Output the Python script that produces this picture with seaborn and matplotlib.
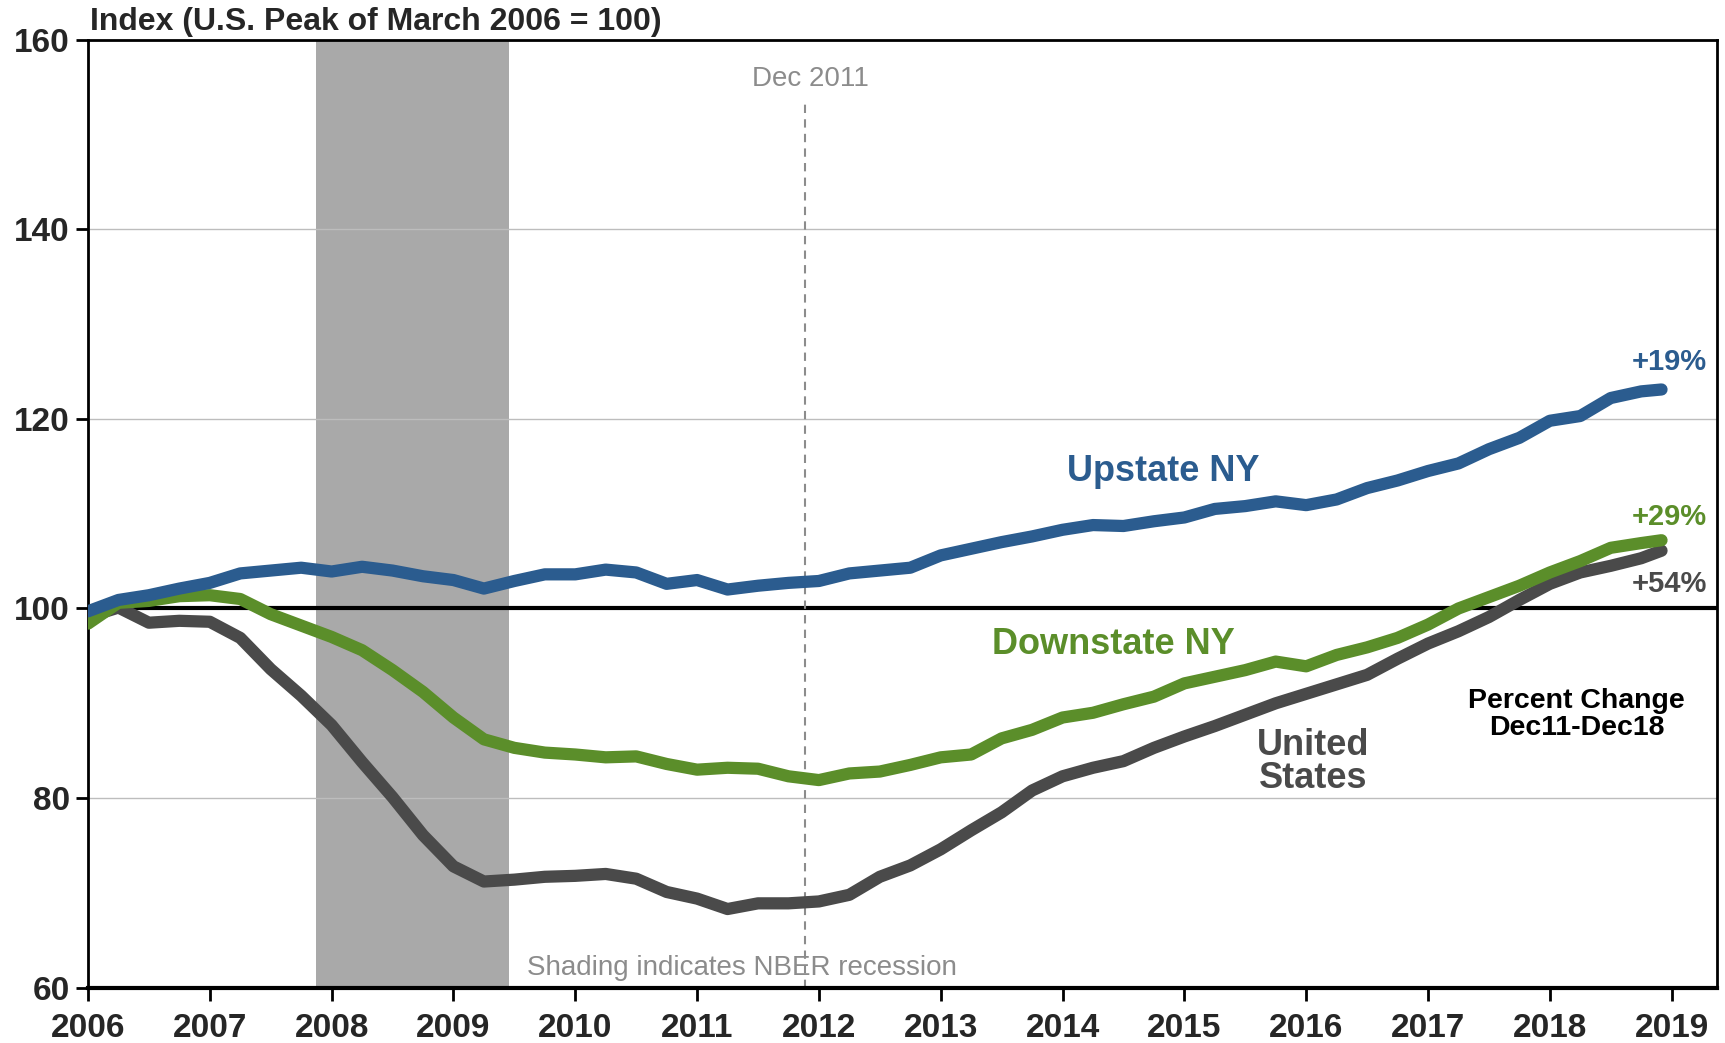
import numpy as np
import pandas as pd
import matplotlib
matplotlib.use("Agg")
import matplotlib.pyplot as plt
import seaborn as sns

# ---- data (index, U.S. peak of March 2006 = 100), quarterly readings + Dec 2018 ----
dates = [2006.00, 2006.25, 2006.50, 2006.75,
         2007.00, 2007.25, 2007.50, 2007.75,
         2008.00, 2008.25, 2008.50, 2008.75,
         2009.00, 2009.25, 2009.50, 2009.75,
         2010.00, 2010.25, 2010.50, 2010.75,
         2011.00, 2011.25, 2011.50, 2011.75,
         2012.00, 2012.25, 2012.50, 2012.75,
         2013.00, 2013.25, 2013.50, 2013.75,
         2014.00, 2014.25, 2014.50, 2014.75,
         2015.00, 2015.25, 2015.50, 2015.75,
         2016.00, 2016.25, 2016.50, 2016.75,
         2017.00, 2017.25, 2017.50, 2017.75,
         2018.00, 2018.25, 2018.50, 2018.75, 2018.917]

upstate = [99.7, 100.9, 101.4, 102.1,
           102.7, 103.7, 104.0, 104.3,
           103.9, 104.4, 104.0, 103.4,
           103.0, 102.1, 102.9, 103.6,
           103.6, 104.1, 103.8, 102.6,
           103.0, 102.0, 102.4, 102.7,
           102.9, 103.7, 104.0, 104.3,
           105.6, 106.3, 107.0, 107.6,
           108.3, 108.8, 108.7, 109.2,
           109.6, 110.5, 110.8, 111.3,
           110.9, 111.5, 112.7, 113.5,
           114.5, 115.3, 116.8, 118.0,
           119.8, 120.3, 122.2, 122.9, 123.1]

downstate = [98.4, 100.6, 100.8, 101.3,
             101.4, 101.0, 99.4, 98.2,
             97.0, 95.6, 93.5, 91.2,
             88.5, 86.2, 85.3, 84.8,
             84.6, 84.3, 84.4, 83.6,
             83.0, 83.2, 83.1, 82.3,
             81.9, 82.6, 82.8, 83.5,
             84.3, 84.6, 86.3, 87.2,
             88.5, 89.0, 89.9, 90.7,
             92.1, 92.8, 93.5, 94.4,
             93.9, 95.1, 95.9, 96.9,
             98.3, 100.0, 101.2, 102.4,
             103.8, 105.0, 106.4, 106.9, 107.2]

united_states = [99.1, 100.1, 98.5, 98.7,
                 98.6, 96.9, 93.6, 90.8,
                 87.7, 83.8, 80.1, 76.1,
                 72.8, 71.2, 71.4, 71.7,
                 71.8, 72.0, 71.5, 70.1,
                 69.4, 68.3, 68.9, 68.9,
                 69.1, 69.8, 71.7, 72.9,
                 74.6, 76.6, 78.5, 80.8,
                 82.3, 83.2, 83.9, 85.3,
                 86.5, 87.6, 88.8, 90.0,
                 91.0, 92.0, 93.0, 94.7,
                 96.3, 97.6, 99.1, 100.9,
                 102.6, 103.8, 104.5, 105.3, 106.1]

series_names = ["Upstate NY", "Downstate NY", "United States"]
series_colors = ["#2B5C8F", "#5B8E2A", "#4A4A4A"]
end_labels = ["+19%", "+29%", "+54%"]

year_ticks = list(range(2006, 2020))
y_ticks = [60, 80, 100, 120, 140, 160]

recession_start, recession_end = 2007.87, 2009.46
marker_date = 2011.89

# ---- build table ----
df = pd.DataFrame({
    "date": dates * 3,
    "value": upstate + downstate + united_states,
    "series": [series_names[0]] * len(dates) + [series_names[1]] * len(dates)
              + [series_names[2]] * len(dates),
})

sns.set_style("white")
plt.rcParams["font.family"] = ["Liberation Sans", "DejaVu Sans"]

fig = plt.figure(figsize=(17.25, 10.43), dpi=100)
ax = fig.add_axes([0.051, 0.053, 0.9442, 0.909])

narrow = ["Liberation Sans Narrow", "Liberation Sans", "DejaVu Sans"]

# recession shading
ax.axvspan(recession_start, recession_end, color="#A9A9A9", lw=0, zorder=0)

# gridlines
for yv in [80, 120, 140]:
    ax.axhline(yv, color="#BDBDBD", lw=1.0, zorder=0.5)
ax.axhline(100, color="black", lw=3.0, zorder=1)

# Dec 2011 marker
ax.plot([marker_date, marker_date], [60, 153.3], color="#8C8C8C", lw=1.5,
        ls=(0, (4, 3)), zorder=1.5)

sns.lineplot(data=df, x="date", y="value", hue="series",
             hue_order=[series_names[2], series_names[1], series_names[0]],
             palette={n: c for n, c in zip(series_names, series_colors)},
             linewidth=8.8, legend=False, ax=ax, zorder=3,
             solid_capstyle="round", solid_joinstyle="round")

ax.set_xlim(2006, 2019.37)
ax.set_ylim(60, 160)
ax.set_xticks(year_ticks)
ax.set_xticklabels([str(y) for y in year_ticks])
ax.set_yticks(y_ticks)
ax.set_yticklabels([str(y) for y in y_ticks])
ax.set_xlabel("")
ax.set_ylabel("")

for lab in ax.get_xticklabels() + ax.get_yticklabels():
    lab.set_family(narrow)
    lab.set_fontweight("bold")
    lab.set_fontsize(24)

ax.tick_params(axis="both", direction="out", length=9, width=2, color="black",
               bottom=True, left=True, top=False, right=False)
ax.tick_params(axis="x", pad=9)
ax.tick_params(axis="y", pad=4)

for side, sp in ax.spines.items():
    sp.set_visible(True)
    sp.set_color("black")
    sp.set_linewidth(2.0)
ax.spines["bottom"].set_linewidth(3.0)

# title
fig.text(0.052, 0.965, "Index (U.S. Peak of March 2006 = 100)", family=narrow,
         fontweight="bold", fontsize=23, ha="left", va="bottom")

# series labels
ax.text(2014.83, 114.5, "Upstate NY", color=series_colors[0], fontsize=26,
        fontweight="bold", ha="center", va="center")
ax.text(2014.42, 96.2, "Downstate NY", color=series_colors[1], fontsize=26,
        fontweight="bold", ha="center", va="center")
ax.text(2016.06, 83.8, "United\nStates", color=series_colors[2], fontsize=26,
        fontweight="bold", ha="center", va="center", linespacing=0.92)

ax.text(2018.22, 88.8, "Percent Change\nDec11-Dec18", color="black", fontsize=20.5,
        fontweight="bold", ha="center", va="center", linespacing=1.05)

for lab, c, yv in zip(end_labels, series_colors, [126.0, 109.7, 102.6]):
    ax.text(2018.98, yv, lab, color=c, fontsize=21, fontweight="bold",
            ha="center", va="center")

ax.text(2011.93, 155.8, "Dec 2011", color="#8C8C8C", fontsize=20,
        ha="center", va="center")
ax.text(2011.37, 62.1, "Shading indicates NBER recession", color="#8C8C8C",
        fontsize=20, ha="center", va="center")

fig.savefig("out.png", dpi=100)
